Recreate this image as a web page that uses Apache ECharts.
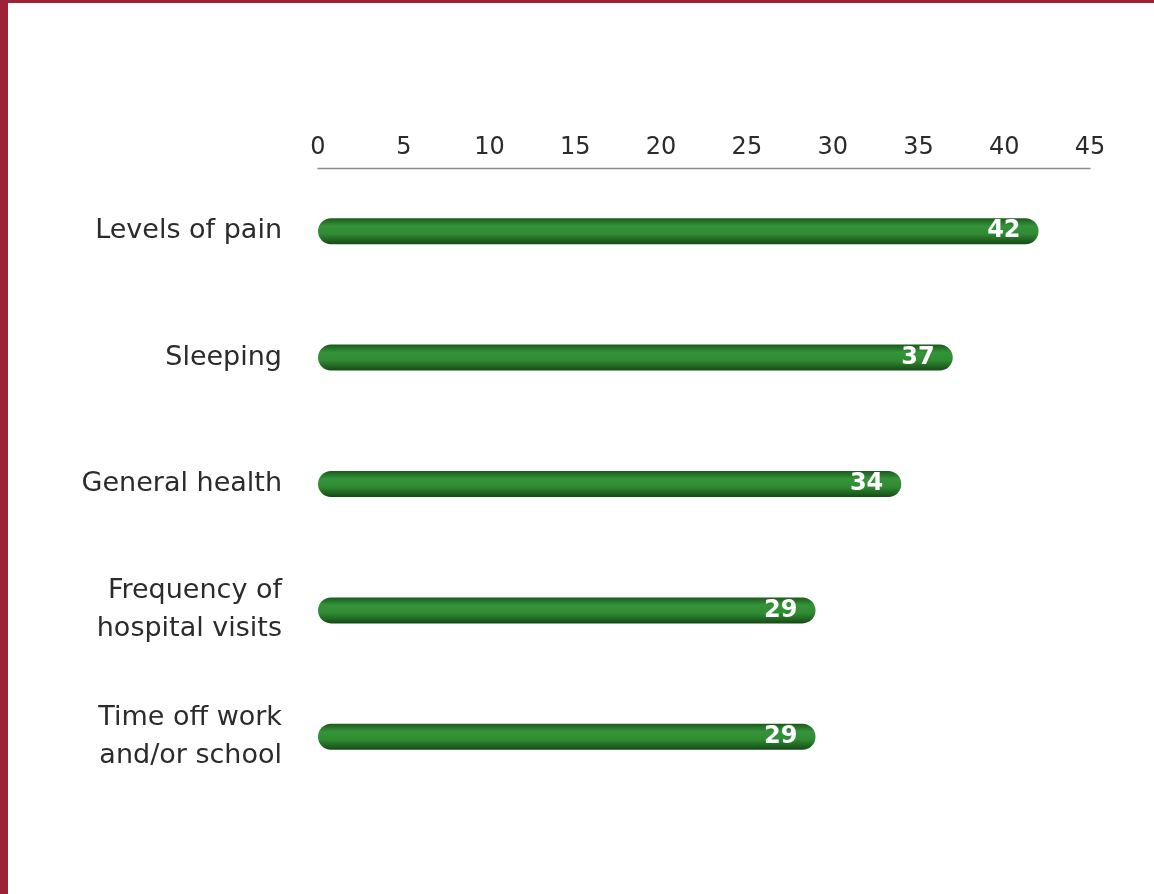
<!DOCTYPE html>
<html>
<head>
<meta charset="utf-8">
<script src="https://cdn.jsdelivr.net/npm/echarts@6/dist/echarts.min.js"></script>
<style>
  html, body { margin: 0; padding: 0; background: #9e2236; }
  #main { position: absolute; left: 8px; top: 3px; width: 1146px; height: 891px; background: #ffffff; }
</style>
</head>
<body>
<div id="main"></div>
<script>
// categories top to bottom
var categories = ['Levels of pain', 'Sleeping', 'General health', 'Frequency of\nhospital visits', 'Time off work\nand/or school']
var values = [42, 37, 34, 29, 29]

var chart = echarts.init(document.getElementById('main'))

var option = {
  backgroundColor: '#ffffff',
  grid: { left: 310, right: 64, top: 165, bottom: 94 },
  xAxis: {
    type: 'value',
    position: 'top',
    min: 0,
    max: 45,
    interval: 5,
    axisLine: { show: true, lineStyle: { color: '#8c8c8c', width: 1.3 } },
    axisTick: { show: false },
    splitLine: { show: false },
    axisLabel: { color: '#2b2b2b', fontSize: 24, fontFamily: 'DejaVu Sans', margin: 8 }
  },
  yAxis: {
    type: 'category',
    data: categories,
    inverse: true,
    axisLine: { show: false },
    axisTick: { show: false },
    axisLabel: { color: '#2b2b2b', fontSize: 27, fontFamily: 'DejaVu Sans', margin: 36, align: 'right', lineHeight: 38 }
  },
  series: [{
    type: 'bar',
    data: values,
    barWidth: 26,
    itemStyle: {
      borderRadius: 13,
      color: new echarts.graphic.LinearGradient(0, 0, 0, 1, [
        { offset: 0, color: '#1b5a1b' },
        { offset: 0.3, color: '#35933a' },
        { offset: 0.6, color: '#308c33' },
        { offset: 1, color: '#154a15' }
      ])
    },
    label: {
      show: true,
      position: 'insideRight',
      distance: 18,
      color: '#ffffff',
      fontSize: 24,
      fontWeight: 'bold',
      fontFamily: 'DejaVu Sans'
    }
  }]
}

chart.setOption(option)
</script>
</body>
</html>
